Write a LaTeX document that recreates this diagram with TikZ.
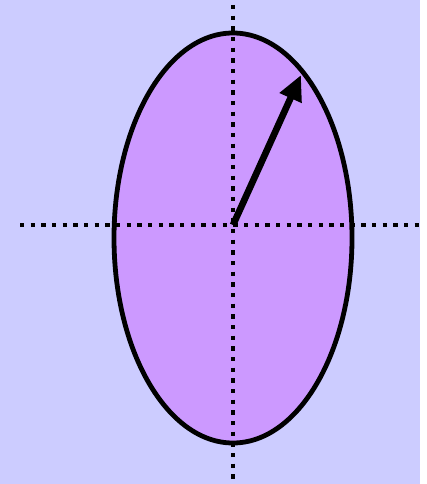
\documentclass[tikz,border=0pt]{standalone}
\usetikzlibrary{arrows.meta}

\definecolor{bgblue}{HTML}{CCCCFF}
\definecolor{lilac}{HTML}{CC99FF}

\begin{document}
\begin{tikzpicture}[x=0.75pt,y=-0.75pt,line join=round]
  \useasboundingbox (0,0) rectangle (427,484);
  \fill[bgblue] (0,0) rectangle (420,484);
  \coordinate (c) at (233,225);
  \coordinate (tip) at (301,75);
  \filldraw[fill=lilac,line width=3.6pt] (233,238) ellipse [x radius=119,y radius=205];
  \draw[line width=3.3pt,dash pattern=on 3.3pt off 4.7pt] (20,225) -- (420,225);
  \draw[line width=3.3pt,dash pattern=on 3.3pt off 4.7pt] (233,5) -- (233,484);
  \draw[line width=5pt,-{Triangle[length=19pt,width=17pt]}] (c) -- (tip);
\end{tikzpicture}
\end{document}
